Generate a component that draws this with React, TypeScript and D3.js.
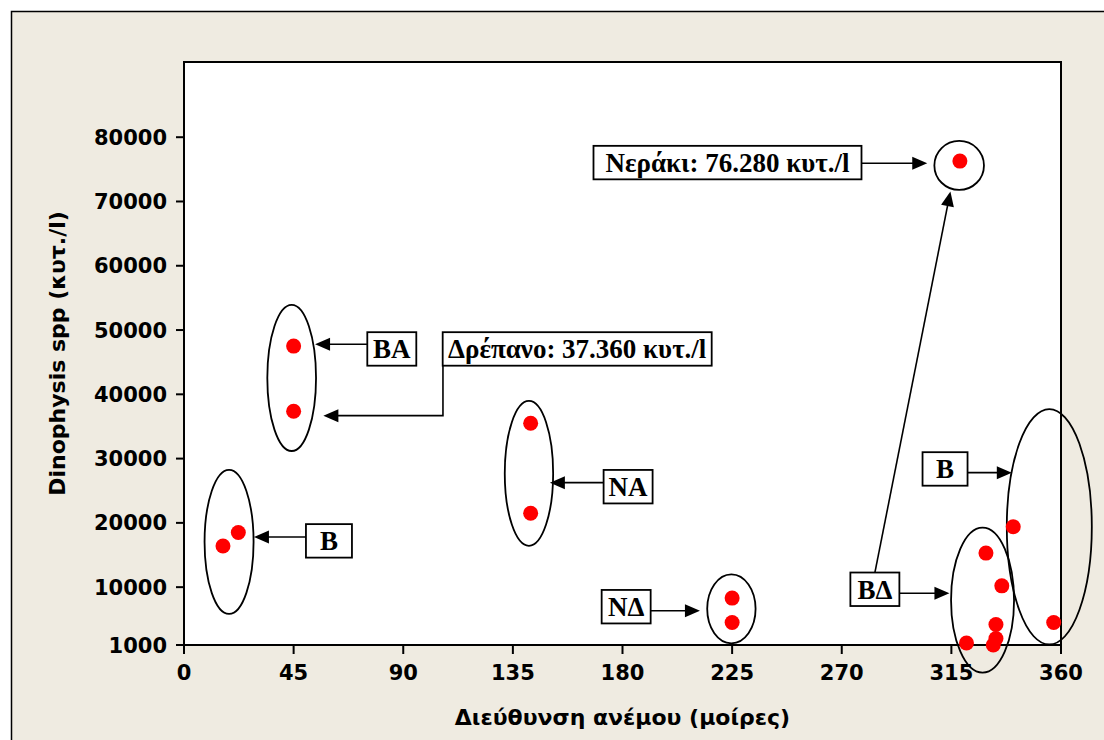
import React from "react";
import * as d3 from "d3";

// ---- data ----
const xTicks = [0, 45, 90, 135, 180, 225, 270, 315, 360];
const yTicks = [1000, 10000, 20000, 30000, 40000, 50000, 60000, 70000, 80000];
const windDirection = [16, 22.3, 45, 45, 142.3, 142.3, 225, 225, 318.5, 321.2, 333.3, 333.3, 332.2, 335.7, 329.2, 340.4, 357];
const dinophysisCells = [16400, 18500, 47500, 37360, 35500, 21500, 8300, 4500, 76280, 1300, 4200, 2000, 1000, 10200, 15300, 19400, 4500];

const xTitle = "Διεύθυνση ανέμου (μοίρες)";
const yTitle = "Dinophysis spp (κυτ./l)";

// annotation ellipses (data units)
const groupEllipses = [
  { cx: 18.5, cy: 17030, rx: 10.06, ry: 11200 },
  { cx: 44.2, cy: 42545, rx: 10.0, ry: 11360 },
  { cx: 141.6, cy: 27700, rx: 9.93, ry: 11265 },
  { cx: 224.7, cy: 6633, rx: 9.93, ry: 5368 },
  { cx: 318.2, cy: 75610, rx: 10.18, ry: 3812 },
  { cx: 327.8, cy: 7970, rx: 12.93, ry: 11280 },
  { cx: 355.2, cy: 19390, rx: 17.45, ry: 18314 },
];

// label boxes (centre in data units)
const labelBoxes = [
  { text: "Β", x: 59.5, y: 17200, w: 46 },
  { text: "ΒΑ", x: 85.3, y: 47060, w: 49 },
  { text: "Δρέπανο: 37.360 κυτ./l", x: 161.4, y: 47060, w: 269 },
  { text: "ΝΑ", x: 182.3, y: 25630, w: 49 },
  { text: "ΝΔ", x: 181.5, y: 6960, w: 49 },
  { text: "Νεράκι: 76.280 κυτ./l", x: 223.1, y: 76050, w: 268 },
  { text: "Β", x: 312.4, y: 28390, w: 45 },
  { text: "ΒΔ", x: 283.6, y: 9670, w: 49 },
];

// arrows (polyline in data units, arrowhead at the last point)
const arrows: number[][][] = [
  [[50.1, 17805], [28.7, 17805]],
  [[75.1, 47790], [53.8, 47790]],
  [[106.3, 44412], [106.3, 36680], [57.2, 36680]],
  [[172.0, 26254], [150.2, 26254]],
  [[191.7, 6337], [211.8, 6337]],
  [[278.3, 75950], [305.1, 75950]],
  [[321.4, 27810], [339.8, 27810]],
  [[293.5, 9045], [314.2, 9045]],
  [[283.6, 12250], [314.6, 71570]],
];

const W = 1104;
const H = 740;
const BG = "#EFEBE1";
const SANS = "'DejaVu Sans', sans-serif";
const SERIF = "'Liberation Serif', 'Times New Roman', serif";

export default function App() {
  const x = d3.scaleLinear().domain([0, 360]).range([184, 1061]);
  const y = d3.scaleLinear().domain([1000, 91700]).range([645, 62]);
  const [x0, x1] = x.range();
  const [y0, y1] = y.range();
  const BOX_H = 33.5;

  const arrowHead = (pts: number[][]) => {
    const a = pts[pts.length - 2];
    const b = pts[pts.length - 1];
    const ax = x(a[0]), ay = y(a[1]), bx = x(b[0]), by = y(b[1]);
    const len = Math.hypot(bx - ax, by - ay);
    const ux = (bx - ax) / len, uy = (by - ay) / len;
    const L = 15, HW = 6.5;
    const baseX = bx - ux * L, baseY = by - uy * L;
    return `${bx},${by} ${baseX - uy * HW},${baseY + ux * HW} ${baseX + uy * HW},${baseY - ux * HW}`;
  };
  const arrowLine = (pts: number[][]) => {
    const a = pts[pts.length - 2];
    const b = pts[pts.length - 1];
    const ax = x(a[0]), ay = y(a[1]), bx = x(b[0]), by = y(b[1]);
    const len = Math.hypot(bx - ax, by - ay);
    const ux = (bx - ax) / len, uy = (by - ay) / len;
    const cut = pts.map((p) => [x(p[0]), y(p[1])]);
    cut[cut.length - 1] = [bx - ux * 10, by - uy * 10];
    return d3.line()(cut as [number, number][]) as string;
  };

  return (
    <svg width={W} height={H} style={{ position: "absolute", left: 0, top: 0, background: "#fff" }}>
      <rect x={11.5} y={11.5} width={W + 20} height={H + 20} fill={BG} stroke="#000" strokeWidth={1.5} />
      <rect x={x0} y={y1} width={x1 - x0} height={y0 - y1} fill="#fff" />

      {/* y axis ticks */}
      {yTicks.map((t) => (
        <g key={"y" + t}>
          <line x1={x0 - 8} x2={x0} y1={y(t)} y2={y(t)} stroke="#000" strokeWidth={2} />
          <text x={x0 - 17} y={y(t)} dy="0.36em" textAnchor="end" fontFamily={SANS} fontWeight="bold" fontSize={21} fill="#000">
            {t}
          </text>
        </g>
      ))}
      {/* x axis ticks */}
      {xTicks.map((t) => (
        <g key={"x" + t}>
          <line x1={x(t)} x2={x(t)} y1={y0} y2={y0 + 9} stroke="#000" strokeWidth={2} />
          <text x={x(t)} y={680} textAnchor="middle" fontFamily={SANS} fontWeight="bold" fontSize={21} fill="#000">
            {t}
          </text>
        </g>
      ))}

      <rect x={x0} y={y1} width={x1 - x0} height={y0 - y1} fill="none" stroke="#000" strokeWidth={2} />

      <text x={(x0 + x1) / 2} y={725} textAnchor="middle" fontFamily={SANS} fontWeight="bold" fontSize={22} fill="#000">
        {xTitle}
      </text>
      <text
        transform={`translate(65,${(y0 + y1) / 2}) rotate(-90)`}
        textAnchor="middle"
        fontFamily={SANS}
        fontWeight="bold"
        fontSize={22}
        fill="#000"
      >
        {yTitle}
      </text>

      {/* ellipses */}
      {groupEllipses.map((e, i) => (
        <ellipse
          key={"e" + i}
          cx={x(e.cx)}
          cy={y(e.cy)}
          rx={x(e.cx + e.rx) - x(e.cx)}
          ry={y(e.cy) - y(e.cy + e.ry)}
          fill="none"
          stroke="#000"
          strokeWidth={1.8}
        />
      ))}

      {/* arrows */}
      {arrows.map((a, i) => (
        <g key={"a" + i}>
          <path d={arrowLine(a)} fill="none" stroke="#000" strokeWidth={1.6} />
          <polygon points={arrowHead(a)} fill="#000" />
        </g>
      ))}

      {/* label boxes */}
      {labelBoxes.map((b, i) => (
        <g key={"b" + i}>
          <rect
            x={x(b.x) - b.w / 2}
            y={y(b.y) - BOX_H / 2}
            width={b.w}
            height={BOX_H}
            fill="#fff"
            stroke="#000"
            strokeWidth={1.8}
          />
          <text x={x(b.x)} y={y(b.y)} dy="0.35em" textAnchor="middle" fontFamily={SERIF} fontWeight="bold" fontSize={27} fill="#000">
            {b.text}
          </text>
        </g>
      ))}

      {/* points */}
      {windDirection.map((d, i) => (
        <circle key={"p" + i} cx={x(d)} cy={y(dinophysisCells[i])} r={7.5} fill="#FF0000" />
      ))}
    </svg>
  );
}
